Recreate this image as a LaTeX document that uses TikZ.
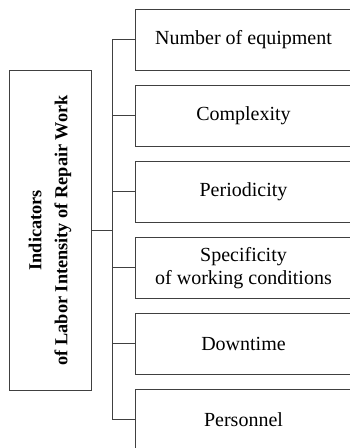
\documentclass[tikz,border=0pt]{standalone}
\usepackage{fontspec}
\setmainfont{Liberation Serif}
\begin{document}
\begin{tikzpicture}[x=1pt,y=-1pt,
  line width=0.8pt,
  conn/.style={draw=black!75},
  item/.style={draw=black!75, minimum width=217pt, minimum height=60.5pt, inner sep=0pt, align=center, font=\fontsize{20}{24}\selectfont},
  mainbox/.style={draw=black!75, minimum width=320.5pt, minimum height=82pt, inner sep=0pt, rotate=90, align=center, font=\fontsize{18.3}{26}\selectfont\bfseries}]
\useasboundingbox (0,0) rectangle (350,448);
\clip (0,0) rectangle (350,448);
\node[mainbox] (L) at (50,230.25) {Indicators\\of Labor Intensity of Repair Work};
\node[item] (R1) at (243.5,39.75) {Number of equipment};
\node[item] (R2) at (243.5,115.75) {Complexity};
\node[item] (R3) at (243.5,191.75) {Periodicity};
\node[item] (R4) at (243.5,267.75) {\raisebox{-3pt}{\begin{tabular}{@{}c@{}}Specificity\\[-1pt]of working conditions\end{tabular}}};
\node[item] (R5) at (243.5,343.75) {Downtime};
\node[item] (R6) at (243.5,419.75) {Personnel};
\coordinate (T) at (112,229.75);
\draw[conn] (R1.west) -- (R1.west -| T) -- (R6.west -| T) -- (R6.west);
\draw[conn] (R2.west) -- (R2.west -| T);
\draw[conn] (R3.west) -- (R3.west -| T);
\draw[conn] (R4.west) -- (R4.west -| T);
\draw[conn] (R5.west) -- (R5.west -| T);
\draw[conn] (L.south) -- (L.south -| T);
\end{tikzpicture}
\end{document}
